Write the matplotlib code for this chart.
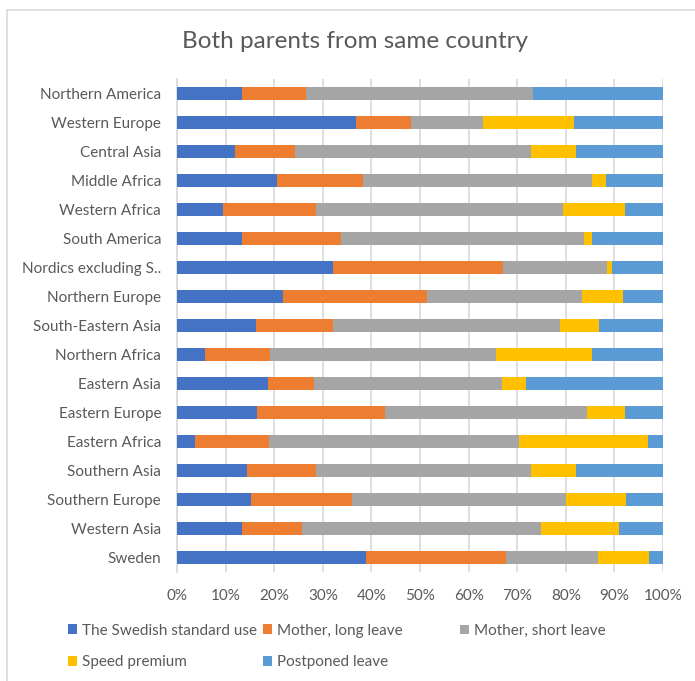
import matplotlib.pyplot as plt
from matplotlib.patches import Rectangle

regions = ["Northern America", "Western Europe", "Central Asia", "Middle Africa",
           "Western Africa", "South America", "Nordics excluding S..", "Northern Europe",
           "South-Eastern Asia", "Northern Africa", "Eastern Asia", "Eastern Europe",
           "Eastern Africa", "Southern Asia", "Southern Europe", "Western Asia", "Sweden"]

# shares in percent
standard = [13.3, 36.9, 12.0, 20.5, 9.4, 13.3, 32.1, 21.8, 16.3, 5.7, 18.7, 16.5, 3.7, 14.5, 15.2, 13.3, 38.8]
long_leave = [13.3, 11.3, 12.2, 17.7, 19.1, 20.5, 34.9, 29.6, 15.7, 13.4, 9.4, 26.2, 15.2, 14.1, 20.8, 12.4, 28.8]
short_leave = [46.7, 14.8, 48.6, 47.1, 50.9, 50.0, 21.4, 31.9, 46.9, 46.5, 38.7, 41.7, 51.4, 44.3, 44.1, 49.1, 19.0]
speed = [0.0, 18.6, 9.2, 2.9, 12.7, 1.5, 1.0, 8.5, 7.9, 19.7, 5.0, 7.7, 26.6, 9.1, 12.2, 16.2, 10.5]
postponed = [26.7, 18.4, 18.0, 11.8, 7.9, 14.7, 10.6, 8.2, 13.2, 14.7, 28.2, 7.9, 3.1, 18.0, 7.7, 9.0, 2.9]

series = [("The Swedish standard use", standard, "#4472C4"),
          ("Mother, long leave", long_leave, "#ED7D31"),
          ("Mother, short leave", short_leave, "#A5A5A5"),
          ("Speed premium", speed, "#FFC000"),
          ("Postponed leave", postponed, "#5B9BD5")]

plt.rcParams['font.family'] = ['Lato', 'DejaVu Sans']
txt = "#595959"
fs = 11

fig = plt.figure(figsize=(6.95, 6.81), dpi=100)
ax = fig.add_axes([0.2547, 0.160, 0.6993, 0.724])

# light frame of the chart area (only top and left are in view)
fig.patches.append(Rectangle((7 / 695, -0.1), 1.2, 1 - 10 / 681 + 0.1, transform=fig.transFigure,
                             fill=False, edgecolor="#D9D9D9", linewidth=1.2))

ypos = list(range(len(regions)))
left = [0.0] * len(regions)
handles = []
for name, vals, col in series:
    frac = [v / 100 for v in vals]
    b = ax.barh(ypos, frac, left=left, height=0.42, color=col, label=name, zorder=3)
    handles.append(b)
    left = [l + f for l, f in zip(left, frac)]

ax.set_ylim(len(regions) - 0.5, -0.5)
ax.set_xlim(0, 1)
ax.set_yticks(ypos)
ax.set_yticklabels(regions, fontsize=fs, color=txt)
ax.set_xticks([i / 10 for i in range(11)])
ax.set_xticklabels([f"{i * 10}%" for i in range(11)], fontsize=fs, color=txt)
ax.tick_params(axis='y', length=0, pad=11.5)
ax.tick_params(axis='x', length=0, pad=12)
ax.grid(axis='x', color="#D9D9D9", linewidth=1.2, zorder=0)
for s in ['top', 'right', 'bottom']:
    ax.spines[s].set_visible(False)
ax.spines['left'].set_color("#D9D9D9")
ax.spines['left'].set_linewidth(1.2)

fig.text(0.511, 1 - 42 / 681, "Both parents from same country", ha='center', va='center',
         fontsize=17.5, color=txt)

# legend laid out row by row like the original, one legend per column
columns = [([0, 3], 68), ([1, 4], 263), ([2], 460)]
for idx, xpix in columns:
    ycen = 646.5 if len(idx) == 2 else 631
    leg = fig.legend([handles[i] for i in idx], [series[i][0] for i in idx],
                     loc='center left', bbox_to_anchor=(xpix / 695, 1 - ycen / 681),
                     frameon=False, fontsize=fs, labelcolor=txt, handlelength=0.6,
                     handleheight=0.6, handletextpad=0.3, labelspacing=1.16,
                     borderpad=0, borderaxespad=0)

fig.savefig("out.png", dpi=100)
